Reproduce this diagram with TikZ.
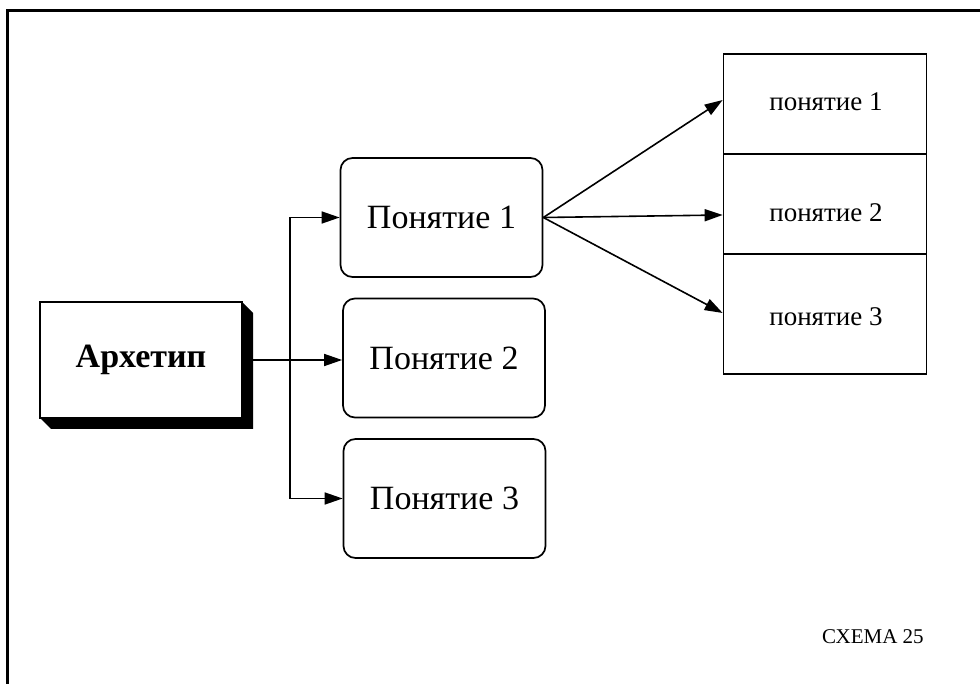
\documentclass[tikz,border=0pt]{standalone}
\usepackage{fontspec}
\setmainfont{Liberation Serif}
\usetikzlibrary{arrows.meta}
\begin{document}
\begin{tikzpicture}[x=1pt,y=-1pt,
  rbox/.style={draw,line width=1.7pt,rounded corners=12pt,minimum width=202pt,minimum height=119pt,inner sep=0pt,font=\fontsize{34}{40}\selectfont},
  cell/.style={draw,line width=1.7pt,minimum width=203pt,inner sep=0pt},
  clabel/.style={font=\fontsize{27}{32}\selectfont,inner sep=0pt},
  conn/.style={line width=1.6pt,-{Triangle[length=18pt,width=12pt]}},
  plain/.style={line width=1.6pt}]
\useasboundingbox (0,0) rectangle (980,684);
\draw[line width=3pt] (980,10.5) -- (7.5,10.5) -- (7.5,684);
% archetype with shadow
\fill (242,302) -- (253,313) -- (253,429) -- (51,429) -- (40,418) -- (242,418) -- cycle;
\node[draw,fill=white,line width=1.7pt,minimum width=202pt,minimum height=116pt,inner sep=0pt,font=\fontsize{34}{40}\selectfont\bfseries] (arch) at (141,360) {Архетип};
% concept boxes
\node[rbox] (p1) at (441.5,217.5) {Понятие 1};
\node[rbox] (p2) at (444,358) {Понятие 2};
\node[rbox] (p3) at (444.5,498.5) {Понятие 3};
% right cells
\node[cell,minimum height=100pt] (c1) at (825,104) {};
\node[cell,minimum height=100pt] (c2) at (825,204) {};
\node[cell,minimum height=120pt] (c3) at (825,314) {};
\node[clabel] (t1) at (826,102) {понятие 1};
\node[clabel] (t2) at (826,213) {понятие 2};
\node[clabel] (t3) at (826,317) {понятие 3};
% connectors
\coordinate (j1) at (290,217.5);
\coordinate (j3) at (290,498.5);
\draw[plain] (j1) -- (j3);
\draw[conn] (arch.east) -- (p2.west |- arch.east);
\draw[conn] (j1) -- (p1.west);
\draw[conn] (j3) -- (p3.west);
\draw[conn] (p1.east) -- (c1.west |- 0,100);
\draw[conn] (p1.east) -- (c2.west |- 0,215);
\draw[conn] (p1.east) -- (c3.west |- 0,313);
% caption
\node[font=\fontsize{21}{25}\selectfont,inner sep=0pt,anchor=west] (cap) at (822,637) {СХЕМА 25};
\end{tikzpicture}
\end{document}
